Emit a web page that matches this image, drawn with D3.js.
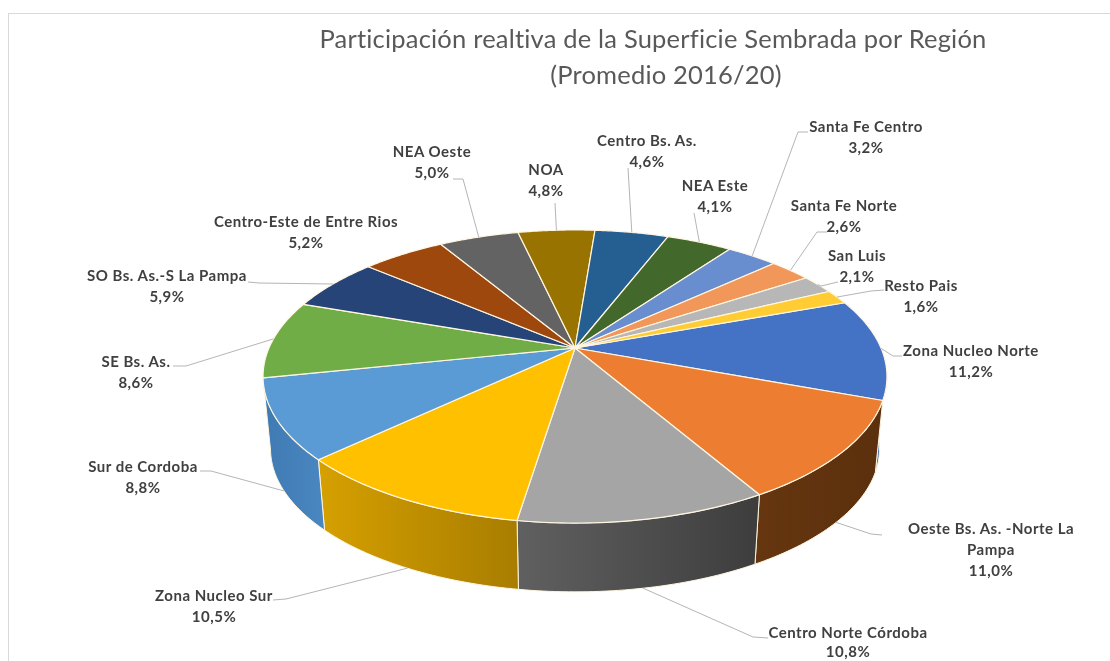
<!DOCTYPE html>
<html><head><meta charset="utf-8">
<script src="https://cdnjs.cloudflare.com/ajax/libs/d3/7.8.5/d3.min.js"></script>
<style>html,body{margin:0;padding:0;background:#fff;overflow:hidden}svg{display:block;filter:blur(0.45px)}</style>
</head><body><svg id="c" width="1110" height="661"></svg>
<script>
const titleLines=["Participación realtiva de la Superficie Sembrada por Región","(Promedio 2016/20)"];
const categories=["Zona Nucleo Norte","Oeste Bs. As. -Norte La Pampa","Centro Norte Córdoba","Zona Nucleo Sur","Sur de Cordoba","SE Bs. As.","SO Bs. As.-S La Pampa","Centro-Este de Entre Rios","NEA Oeste","NOA","Centro Bs. As.","NEA Este","Santa Fe Centro","Santa Fe Norte","San Luis","Resto Pais"];
const values=[11.2,11.0,10.8,10.5,8.8,8.6,5.9,5.2,5.0,4.8,4.6,4.1,3.2,2.6,2.1,1.6];
const topColors=["#4472C4","#ED7D31","#A5A5A5","#FFC000","#5B9BD5","#70AD47","#264478","#9E480E","#636363","#997300","#255E91","#43682B","#698ED0","#F1975A","#B7B7B7","#FFCD33"];
const wallLeft=["#3b64ad","#65360f","#606060","#d6a000","#3f7ab3"];
const wallRight=["#3b64ad","#5c300d","#3d3d3d","#a87d00","#4a86c0"];
// label layout: centre x, first-line y, line gap, wrapped lines
const labelX=[971,991,848,214,143,136,167,306,432,546,647,715,866,844,857,921];
const labelY=[356,534,638,601,472,367,281,227,157,175,146,191,132,211,261,291];
const labelGap=[21,21,19,21,21,21,21,21,21,21,21,21,21,21,21,21];
const labelWrap=[null,["Oeste Bs. As. -Norte La","Pampa"],null,null,null,null,null,null,null,null,null,null,null,null,null,null];
// leader elbows (first point after the rim), end next to the label; null = no leader
const leaderPts=[[[893,356],[902,356]],[[871,534],[882,535]],[[753,637],[768,638]],[[286,599],[273,600]],[[211,471],[200,471]],[[186,366],[173,366]],[[259,283],[248,282]],null,[[463,179],[453,179]],[[555,203]],[[628,168]],[[694,213]],[[798,132],[808,132]],[[817,232],[827,232]],[[821,286],[838,282]],[[871,291],[884,290]]];
const onWall=[false,true,true,true,true,false,false,false,false,false,false,false,false,false,false,false];

const svg=d3.select("#c");
const cx=575,cy=348,a=306,b=141,k=-0.1945,wallScale=0.976,wallCy=421;
const start=70*Math.PI/180;
const pie=d3.pie().sort(null).startAngle(start).endAngle(start+2*Math.PI);
const arcs=pie(values);
const rim=t=>{const u=Math.sin(t),v=-Math.cos(t),d=1+k*v;return [cx+a*u/d,cy+b*v/d];};
const low=t=>{const p=rim(t);return [cx+wallScale*(p[0]-cx),wallCy+wallScale*(p[1]-cy)];};
const line=d3.line().curve(d3.curveLinear);
const steps=(s,e)=>d3.range(0,41).map(i=>s+(e-s)*i/40);
const wallArcs=arcs.filter((d,i)=>i<wallLeft.length);

svg.append("rect").attr("x",8.5).attr("y",13.5).attr("width",1140).attr("height",700).attr("fill","#fff").attr("stroke","#d9d9d9").attr("stroke-width",1);

const defs=svg.append("defs");
wallArcs.forEach((d,i)=>{
 const g=defs.append("linearGradient").attr("id","w"+i).attr("x1",0).attr("x2",1).attr("y1",0).attr("y2",0);
 g.append("stop").attr("offset",0).attr("stop-color",wallLeft[i]);
 g.append("stop").attr("offset",1).attr("stop-color",wallRight[i]);
});
// walls
svg.append("g").selectAll("path").data(wallArcs).join("path")
 .attr("d",d=>{const t=steps(d.startAngle,d.endAngle);return line(t.map(rim).concat(t.slice().reverse().map(low)))+"Z";})
 .attr("fill",(d,i)=>`url(#w${i})`).attr("stroke","#fdf6e0").attr("stroke-width",1).attr("stroke-linejoin","round");
// top
svg.append("g").selectAll("path").data(arcs).join("path")
 .attr("d",d=>line([[cx,cy]].concat(steps(d.startAngle,d.endAngle).map(rim)))+"Z")
 .attr("fill",(d,i)=>topColors[i]).attr("stroke","#fff6e2").attr("stroke-width",1.2).attr("stroke-linejoin","round");
// leaders
svg.append("g").selectAll("path").data(arcs.filter((d,i)=>leaderPts[i])).join("path")
 .attr("d",d=>{const m=(d.startAngle+d.endAngle)/2;return line([(onWall[d.index]?low:rim)(m)].concat(leaderPts[d.index]));})
 .attr("fill","none").attr("stroke","#b5b5b5").attr("stroke-width",1);
// title
svg.append("g").selectAll("text").data(titleLines).join("text")
 .attr("x",(d,i)=>i?666:653).attr("y",(d,i)=>i?84:48).attr("text-anchor","middle")
 .attr("font-family","Lato").attr("font-size",25.5).attr("letter-spacing",0.2).attr("fill","#595959").text(d=>d);
// labels
const lab=svg.append("g").attr("font-family","Lato").attr("font-weight",700).attr("font-size",15).attr("letter-spacing",0.5).attr("fill","#404040").attr("text-anchor","middle");
categories.forEach((c,i)=>{
 const lines=(labelWrap[i]||[c]).concat([d3.format(".1f")(values[i]).replace(".",",")+"%"]);
 lines.forEach((s,j)=>lab.append("text").attr("x",labelX[i]).attr("y",labelY[i]+j*labelGap[i]).text(s));
});
</script></body></html>
